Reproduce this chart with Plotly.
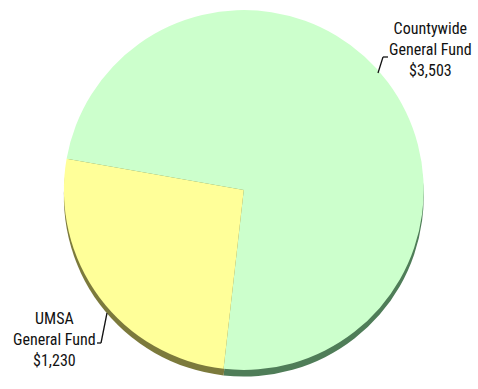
import plotly.graph_objects as go

funds = ["Countywide<br>General Fund", "UMSA<br>General Fund"]
amounts = [3503, 1230]
amount_labels = ["$3,503", "$1,230"]

face_colors = ["#CCFFCC", "#FFFF99"]
edge_colors = ["#4F7D58", "#7C7A3C"]

FONT = "Liberation Sans Narrow, Arial Narrow, Roboto Condensed, Liberation Sans, sans-serif"

fig = go.Figure()
# rim / thickness of the 3D pie
fig.add_trace(go.Pie(
    labels=funds, values=amounts, sort=False, direction="clockwise", rotation=280,
    marker=dict(colors=edge_colors, line=dict(width=0)),
    textinfo="none", hoverinfo="skip", showlegend=False,
    domain=dict(x=[0.06, 0.96], y=[0.032, 0.957]),
))
# face of the pie
fig.add_trace(go.Pie(
    labels=funds, values=amounts, sort=False, direction="clockwise", rotation=280,
    marker=dict(colors=face_colors, line=dict(width=0)),
    textinfo="none", showlegend=False,
    customdata=amount_labels,
    hovertemplate="%{label}<br>%{customdata}<extra></extra>",
    domain=dict(x=[0.06, 0.96], y=[0.049, 0.974]),
))

W, H = 478, 389
def px(x, y):
    return x / W, 1 - y / H

label_pos = [(430, 50), (54, 339)]
for (lx, ly), name, amt in zip(label_pos, funds, amount_labels):
    x, y = px(lx, ly)
    fig.add_annotation(x=x, y=y, xref="paper", yref="paper", showarrow=False,
                       xanchor="center", yanchor="middle",
                       text=f"{name}<br>{amt}", align="center",
                       font=dict(family=FONT, size=16, color="#111111"))

# leader lines
for pts in [[(378, 73), (383, 57), (388, 57)], [(97, 343), (101, 343), (107, 313)]]:
    for (x0, y0), (x1, y1) in zip(pts[:-1], pts[1:]):
        a, b = px(x0, y0)
        c, d = px(x1, y1)
        fig.add_shape(type="line", xref="paper", yref="paper", x0=a, y0=b, x1=c, y1=d,
                      line=dict(color="#111111", width=1.3))

fig.update_layout(width=W, height=H, margin=dict(l=0, r=0, t=0, b=0),
                  paper_bgcolor="white", plot_bgcolor="white")
fig.write_html("out.html")
